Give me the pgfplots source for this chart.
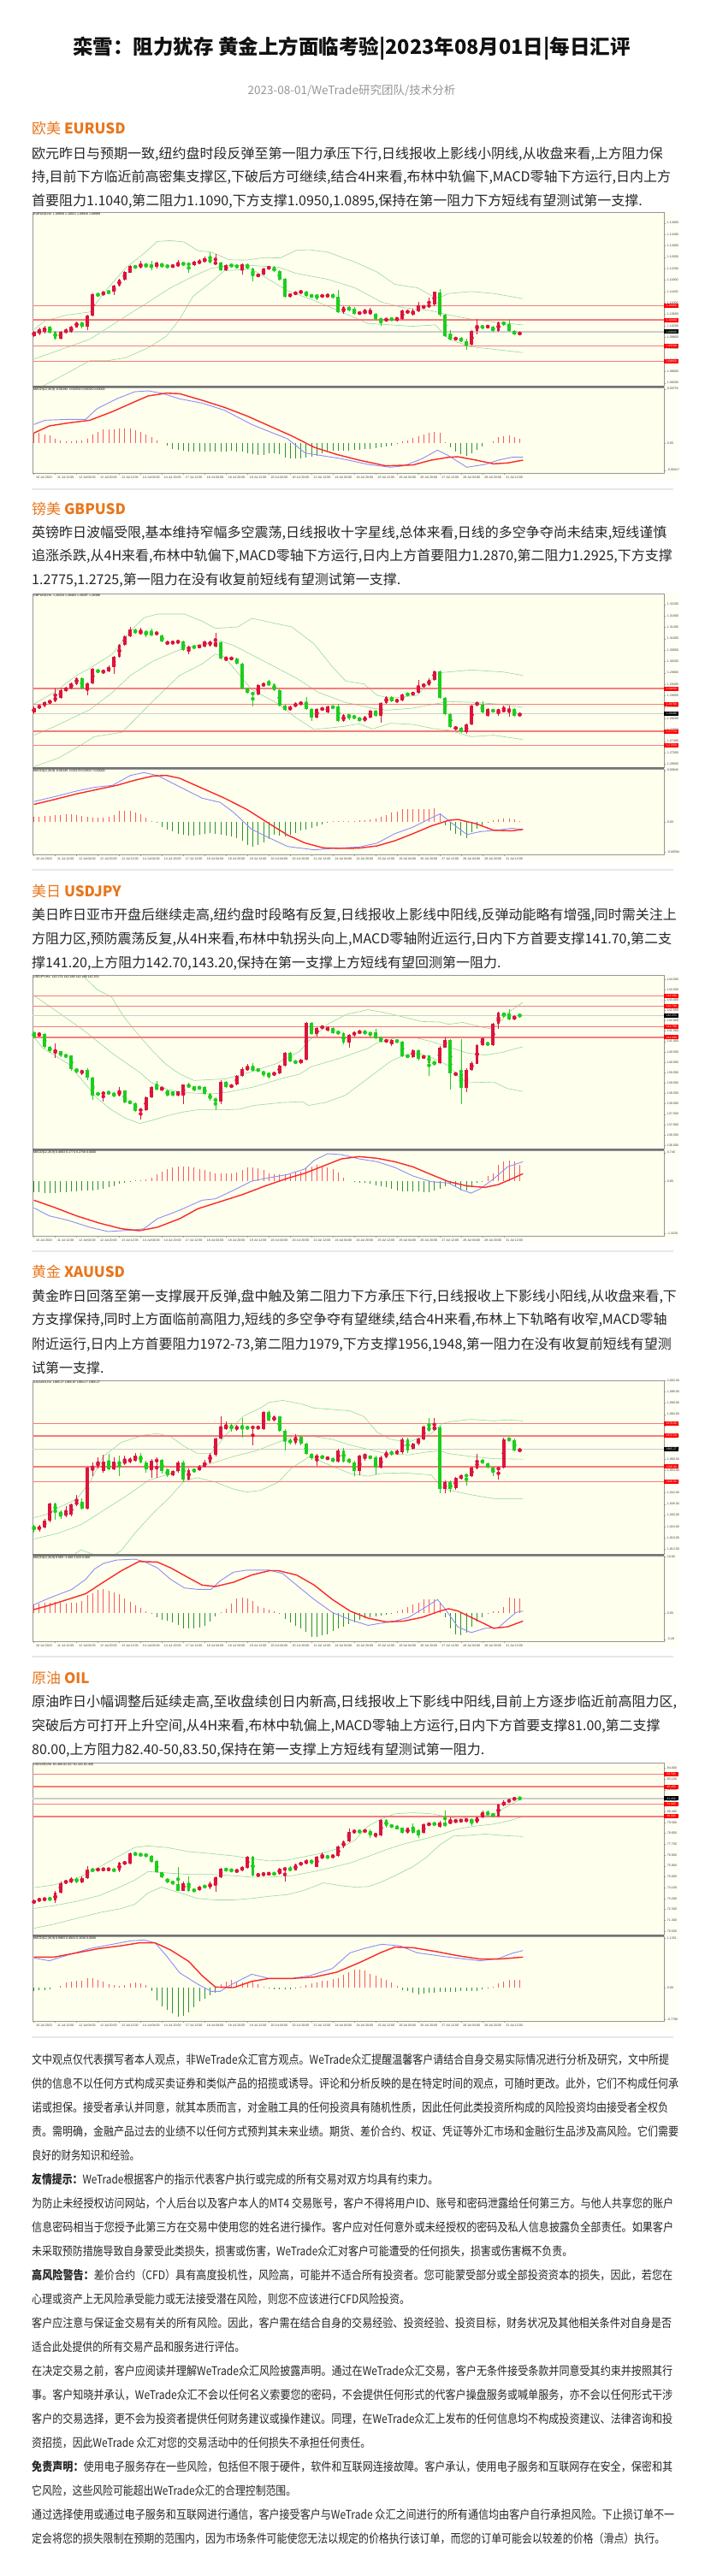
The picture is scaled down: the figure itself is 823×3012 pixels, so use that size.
\documentclass[border=0pt]{standalone}
\usepackage{fontspec}
\setmainfont{Noto Sans CJK SC}
\newfontfamily\discf{Noto Sans CJK SC}
\newfontfamily\lat{Liberation Sans}
\usepackage{graphicx}
\usepackage{pgfplots}
\pgfplotsset{compat=1.18}
\usepackage{pgfplotstable}
\XeTeXlinebreaklocale "zh"
\XeTeXlinebreakskip=0pt plus 3pt minus 1pt

\definecolor{plotbg}{RGB}{255,255,238}
\definecolor{stripbg}{RGB}{255,255,246}
\definecolor{bull}{RGB}{220,20,60}
\definecolor{bear}{RGB}{30,205,30}
\definecolor{bandc}{RGB}{150,215,160}
\definecolor{lvlc}{RGB}{245,125,125}
\definecolor{curc}{RGB}{205,205,205}
\definecolor{mblue}{RGB}{140,140,250}
\definecolor{mred}{RGB}{250,40,40}
\definecolor{hred}{RGB}{250,90,90}
\definecolor{hgreen}{RGB}{40,150,40}
\definecolor{framec}{RGB}{150,150,150}
\definecolor{headc}{RGB}{232,118,28}
\definecolor{txt}{RGB}{38,38,38}
\definecolor{subc}{RGB}{150,150,150}
\definecolor{sepc}{RGB}{232,232,232}

\newcommand\tinyf{\lat\fontsize{3.6}{4}\selectfont}
\newcommand\tagf{\lat\fontsize{3.3}{3.6}\selectfont}
\newcommand\parf{\fontsize{16}{18}\selectfont}
\newcommand\discfs{\discf\fontsize{14}{16}\selectfont}

\newcommand\pl[2]{\node[anchor=west,inner sep=0pt,text=txt,font=\parf] at (37pt,-#1pt) {\hbox to 748pt{#2}};}
\newcommand\pn[2]{\node[anchor=west,inner sep=0pt,text=txt,font=\parf] at (37pt,-#1pt) {#2};}
\newcommand\dl[3]{\node[anchor=west,inner sep=0pt,text=txt,font=\discfs] at (37pt,-#1pt) {\resizebox{#2pt}{\height}{#3}};}
\newcommand\head[3]{\node[anchor=west,inner sep=0pt,text=headc,font=\fontsize{17}{18}\selectfont] at (37pt,-#1pt) {#2 \textbf{#3}};}

\newcommand\candles[1]{%
\addplot[only marks, mark=none, bull, forget plot, restrict expr to domain={\thisrow{c}-\thisrow{o}}{-0.000001:100000}, error bars/.cd, y dir=both, y explicit, error mark=none, error bar style={line width=0.6pt, bull}] table[x=i, y expr=(\thisrow{h}+\thisrow{l})/2, y error expr=(\thisrow{h}-\thisrow{l})/2] {#1};
\addplot[only marks, mark=none, bear, forget plot, restrict expr to domain={\thisrow{o}-\thisrow{c}}{0.000001:100000}, error bars/.cd, y dir=both, y explicit, error mark=none, error bar style={line width=0.6pt, bear}] table[x=i, y expr=(\thisrow{h}+\thisrow{l})/2, y error expr=(\thisrow{h}-\thisrow{l})/2] {#1};
\addplot[only marks, mark=none, bull, forget plot, restrict expr to domain={\thisrow{c}-\thisrow{o}}{-0.000001:100000}, error bars/.cd, y dir=both, y explicit, error mark=none, error bar style={line width=3.8pt, bull}] table[x=i, y expr=(\thisrow{o}+\thisrow{c})/2, y error expr=abs(\thisrow{c}-\thisrow{o})/2] {#1};
\addplot[only marks, mark=none, bear, forget plot, restrict expr to domain={\thisrow{o}-\thisrow{c}}{0.000001:100000}, error bars/.cd, y dir=both, y explicit, error mark=none, error bar style={line width=3.8pt, bear}] table[x=i, y expr=(\thisrow{o}+\thisrow{c})/2, y error expr=abs(\thisrow{c}-\thisrow{o})/2] {#1};
}
\newcommand\hist[1]{%
\addplot[ycomb, hred, line width=0.8pt, forget plot, restrict y to domain=0.5:100000] table[x=i,y=m]{#1};
\addplot[ycomb, hgreen, line width=0.8pt, forget plot, restrict y to domain=-100000:-0.5] table[x=i,y=m]{#1};
}
\newcommand\lvl[1]{\addplot[lvlc, line width=1.5pt, forget plot] coordinates {(-1,#1) (119,#1)};}
\newcommand\curl[1]{\addplot[curc, line width=1.3pt, forget plot] coordinates {(-1,#1) (119,#1)};}
\newcommand\rtag[3]{\node[anchor=west, fill=#1, text=white, inner sep=0.4pt, font=\tagf, minimum height=5pt, minimum width=17pt] at (axis cs:118,#2) {#3};}

\pgfplotsset{
 cbase/.style={scale only axis, width=738pt, xmin=-0.26, xmax=118, anchor=north west,
   axis background/.style={fill=plotbg},
   axis line style={draw=framec, line width=0.8pt},
   clip mode=individual,
   tick align=outside, major tick length=1.6pt,
   tick style={draw=framec, line width=0.3pt},
   ytick pos=right,
   yticklabel style={font=\tinyf, text=black!75, xshift=-1.2pt},
   /pgf/number format/assume math mode=true,
   scaled y ticks=false},
 cmain/.style={cbase, height=203pt, xtick=\empty,
   yticklabel style={/pgf/number format/fixed, /pgf/number format/fixed zerofill, /pgf/number format/precision=#1}},
 cmacd/.style={cbase, height=100pt, xtick pos=bottom, xtick={0,4,...,88},
   xticklabels={10 Jul 2023,11 Jul 12:00,12 Jul 04:00,12 Jul 20:00,13 Jul 12:00,14 Jul 04:00,14 Jul 20:00,17 Jul 12:00,18 Jul 04:00,18 Jul 20:00,19 Jul 12:00,20 Jul 04:00,20 Jul 20:00,21 Jul 12:00,24 Jul 04:00,24 Jul 20:00,25 Jul 12:00,26 Jul 04:00,26 Jul 20:00,27 Jul 12:00,28 Jul 04:00,28 Jul 20:00,31 Jul 12:00},
   xticklabel style={font=\tinyf, text=black!75, anchor=north west, xshift=-1pt, yshift=0.8pt}},
}

% ---------------- EURUSD ----------------
\pgfplotstableread{
i o h l c
0 1.0985 1.1003 1.0981 1.0998
1 1.0993 1.1013 1.0988 1.1008
2 1.0998 1.1020 1.0993 1.1015
3 1.1017 1.1020 1.0994 1.0997
4 1.0999 1.1001 1.0973 1.0976
5 1.0976 1.1001 1.0973 1.0998
6 1.0996 1.1010 1.0993 1.1006
7 1.0998 1.1020 1.0995 1.1017
8 1.1015 1.1036 1.1013 1.1033
9 1.1033 1.1036 1.1012 1.1018
10 1.1018 1.1058 1.1005 1.1055
11 1.1055 1.1133 1.1052 1.1131
12 1.1131 1.1134 1.1122 1.1127
13 1.1128 1.1141 1.1125 1.1138
14 1.1141 1.1143 1.1130 1.1137
15 1.1140 1.1163 1.1128 1.1161
16 1.1160 1.1185 1.1158 1.1181
17 1.1181 1.1212 1.1178 1.1208
18 1.1206 1.1232 1.1204 1.1228
19 1.1228 1.1232 1.1220 1.1225
20 1.1223 1.1246 1.1220 1.1236
21 1.1235 1.1238 1.1222 1.1231
22 1.1233 1.1246 1.1214 1.1223
23 1.1225 1.1245 1.1220 1.1241
24 1.1238 1.1241 1.1222 1.1225
25 1.1231 1.1234 1.1222 1.1226
26 1.1227 1.1236 1.1222 1.1231
27 1.1228 1.1250 1.1225 1.1239
28 1.1239 1.1241 1.1232 1.1236
29 1.1238 1.1240 1.1205 1.1233
30 1.1233 1.1248 1.1230 1.1245
31 1.1238 1.1252 1.1235 1.1248
32 1.1243 1.1262 1.1240 1.1255
33 1.1255 1.1278 1.1238 1.1241
34 1.1238 1.1270 1.1235 1.1241
35 1.1241 1.1244 1.1212 1.1215
36 1.1215 1.1234 1.1212 1.1231
37 1.1233 1.1236 1.1226 1.1229
38 1.1233 1.1236 1.1220 1.1223
39 1.1221 1.1238 1.1200 1.1235
40 1.1235 1.1238 1.1218 1.1221
41 1.1221 1.1224 1.1175 1.1193
42 1.1193 1.1203 1.1190 1.1200
43 1.1198 1.1224 1.1195 1.1221
44 1.1221 1.1228 1.1218 1.1225
45 1.1225 1.1228 1.1207 1.1210
46 1.1210 1.1213 1.1178 1.1183
47 1.1185 1.1188 1.1120 1.1123
48 1.1123 1.1134 1.1120 1.1131
49 1.1131 1.1140 1.1128 1.1137
50 1.1137 1.1143 1.1133 1.1140
51 1.1140 1.1143 1.1122 1.1125
52 1.1127 1.1130 1.1118 1.1123
53 1.1127 1.1130 1.1110 1.1121
54 1.1121 1.1131 1.1118 1.1128
55 1.1121 1.1133 1.1118 1.1130
56 1.1130 1.1133 1.1115 1.1118
57 1.1121 1.1146 1.1065 1.1068
58 1.1068 1.1088 1.1063 1.1085
59 1.1085 1.1088 1.1072 1.1075
60 1.1081 1.1085 1.1058 1.1061
61 1.1061 1.1071 1.1058 1.1068
62 1.1065 1.1080 1.1062 1.1069
63 1.1063 1.1082 1.1060 1.1069
64 1.1063 1.1066 1.1042 1.1045
65 1.1045 1.1048 1.1020 1.1038
66 1.1038 1.1048 1.1035 1.1045
67 1.1045 1.1048 1.1038 1.1041
68 1.1041 1.1051 1.1035 1.1048
69 1.1045 1.1076 1.1042 1.1073
70 1.1065 1.1076 1.1062 1.1073
71 1.1058 1.1080 1.1055 1.1071
72 1.1070 1.1105 1.1068 1.1085
73 1.1083 1.1092 1.1080 1.1088
74 1.1085 1.1120 1.1083 1.1095
75 1.1095 1.1141 1.1090 1.1138
76 1.1138 1.1148 1.1053 1.1058
77 1.1058 1.1061 1.0980 1.0985
78 1.0985 1.1005 1.0970 1.0973
79 1.0973 1.0980 1.0970 1.0977
80 1.0977 1.0980 1.0962 1.0965
81 1.0965 1.0975 1.0935 1.0953
82 1.0953 1.1006 1.0950 1.1003
83 1.1003 1.1043 1.0990 1.1023
84 1.1021 1.1024 1.1008 1.1011
85 1.1015 1.1022 1.1012 1.1019
86 1.1017 1.1020 1.0998 1.1001
87 1.1001 1.1036 1.0998 1.1033
88 1.1033 1.1036 1.1020 1.1025
89 1.1025 1.1043 1.0998 1.1001
90 1.1001 1.1004 1.0988 1.0991
91 1.0991 1.0998 1.0988 1.0995
}\eurc
\pgfplotstableread[row sep=\\]{i m\\0 35\\1 35\\2 30\\3 27\\4 15\\5 9\\6 7\\7 7\\8 8\\9 9\\10 15\\11 30\\12 40\\13 47\\14 48\\15 49\\16 50\\17 51\\18 51\\19 45\\20 40\\21 30\\22 20\\23 10\\24 0\\25 -10\\26 -20\\27 -25\\28 -27\\29 -30\\30 -31\\31 -31\\32 -31\\33 -31\\34 -31\\35 -30\\36 -29\\37 -28\\38 -30\\39 -31\\40 -35\\41 -40\\42 -43\\43 -41\\44 -37\\45 -37\\46 -40\\47 -50\\48 -55\\49 -55\\50 -53\\51 -50\\52 -48\\53 -45\\54 -37\\55 -31\\56 -27\\57 -27\\58 -27\\59 -27\\60 -25\\61 -23\\62 -21\\63 -20\\64 -18\\65 -15\\66 -12\\67 -8\\68 -3\\69 5\\70 10\\71 17\\72 25\\73 30\\74 35\\75 40\\76 35\\77 2\\78 -15\\79 -30\\80 -40\\81 -45\\82 -35\\83 -25\\84 -13\\85 0\\86 7\\87 20\\88 25\\89 27\\90 20\\91 15\\}\eurh

% ---------------- GBPUSD ----------------
\pgfplotstableread{
i o h l c
0 1.2841 1.2861 1.2836 1.2856
1 1.2856 1.2869 1.2853 1.2866
2 1.2864 1.2880 1.2860 1.2876
3 1.2873 1.2887 1.2870 1.2883
4 1.2881 1.2925 1.2878 1.2896
5 1.2891 1.2925 1.2888 1.2919
6 1.2916 1.2932 1.2913 1.2929
7 1.2926 1.2946 1.2923 1.2943
8 1.2941 1.2965 1.2938 1.2961
9 1.2961 1.2964 1.2923 1.2926
10 1.2926 1.2946 1.2900 1.2943
11 1.2943 1.2996 1.2940 1.2993
12 1.2991 1.2994 1.2978 1.2981
13 1.2981 1.2992 1.2975 1.2989
14 1.2986 1.3005 1.2983 1.3001
15 1.3001 1.3040 1.2975 1.3036
16 1.3036 1.3082 1.3033 1.3079
17 1.3079 1.3112 1.3076 1.3109
18 1.3109 1.3140 1.3106 1.3131
19 1.3131 1.3134 1.3116 1.3119
20 1.3116 1.3139 1.3113 1.3126
21 1.3126 1.3129 1.3105 1.3116
22 1.3119 1.3135 1.3110 1.3113
23 1.3116 1.3124 1.3113 1.3121
24 1.3111 1.3114 1.3086 1.3089
25 1.3081 1.3092 1.3078 1.3089
26 1.3083 1.3092 1.3080 1.3089
27 1.3086 1.3095 1.3083 1.3091
28 1.3089 1.3092 1.3058 1.3061
29 1.3063 1.3074 1.3045 1.3071
30 1.3073 1.3076 1.3065 1.3068
31 1.3069 1.3079 1.3066 1.3076
32 1.3073 1.3094 1.3070 1.3091
33 1.3076 1.3094 1.3073 1.3091
34 1.3073 1.3120 1.3070 1.3086
35 1.3086 1.3089 1.3026 1.3029
36 1.3029 1.3036 1.3020 1.3033
37 1.3029 1.3035 1.3025 1.3032
38 1.3031 1.3034 1.3008 1.3011
39 1.3013 1.3016 1.2923 1.2926
40 1.2926 1.2929 1.2908 1.2911
41 1.2911 1.2914 1.2863 1.2903
42 1.2903 1.2939 1.2900 1.2936
43 1.2933 1.2946 1.2930 1.2943
44 1.2943 1.2956 1.2936 1.2939
45 1.2939 1.2942 1.2916 1.2919
46 1.2919 1.2922 1.2863 1.2866
47 1.2866 1.2869 1.2846 1.2849
48 1.2849 1.2864 1.2846 1.2861
49 1.2861 1.2876 1.2858 1.2873
50 1.2871 1.2878 1.2868 1.2875
51 1.2875 1.2896 1.2850 1.2853
52 1.2853 1.2856 1.2810 1.2823
53 1.2823 1.2856 1.2820 1.2853
54 1.2851 1.2859 1.2848 1.2856
55 1.2841 1.2864 1.2838 1.2861
56 1.2861 1.2864 1.2855 1.2858
57 1.2861 1.2870 1.2808 1.2811
58 1.2811 1.2834 1.2808 1.2831
59 1.2833 1.2836 1.2815 1.2826
60 1.2829 1.2832 1.2818 1.2821
61 1.2823 1.2826 1.2808 1.2811
62 1.2811 1.2828 1.2808 1.2825
63 1.2823 1.2849 1.2820 1.2846
64 1.2846 1.2849 1.2826 1.2829
65 1.2829 1.2876 1.2806 1.2873
66 1.2873 1.2899 1.2870 1.2896
67 1.2896 1.2899 1.2876 1.2879
68 1.2879 1.2889 1.2875 1.2886
69 1.2883 1.2906 1.2880 1.2903
70 1.2906 1.2909 1.2900 1.2903
71 1.2903 1.2914 1.2900 1.2911
72 1.2909 1.2955 1.2906 1.2933
73 1.2933 1.2942 1.2930 1.2939
74 1.2936 1.2960 1.2933 1.2956
75 1.2956 1.2989 1.2953 1.2986
76 1.2986 1.2989 1.2888 1.2891
77 1.2891 1.2894 1.2833 1.2836
78 1.2836 1.2839 1.2788 1.2791
79 1.2783 1.2792 1.2780 1.2789
80 1.2786 1.2789 1.2770 1.2773
81 1.2773 1.2802 1.2765 1.2799
82 1.2799 1.2869 1.2796 1.2866
83 1.2866 1.2879 1.2863 1.2876
84 1.2869 1.2879 1.2838 1.2841
85 1.2829 1.2856 1.2826 1.2853
86 1.2851 1.2854 1.2840 1.2843
87 1.2846 1.2852 1.2830 1.2849
88 1.2846 1.2866 1.2843 1.2849
89 1.2846 1.2866 1.2825 1.2853
90 1.2853 1.2856 1.2826 1.2829
91 1.2831 1.2839 1.2828 1.2836
}\gbpc
\pgfplotstableread[row sep=\\]{i m\\0 18\\1 18\\2 20\\3 22\\4 23\\5 25\\6 27\\7 27\\8 25\\9 20\\10 17\\11 15\\12 13\\13 14\\14 16\\15 25\\16 38\\17 40\\18 38\\19 33\\20 28\\21 15\\22 3\\23 -2\\24 -19\\25 -27\\26 -35\\27 -42\\28 -47\\29 -50\\30 -50\\31 -47\\32 -42\\33 -39\\34 -42\\35 -47\\36 -49\\37 -52\\38 -57\\39 -67\\40 -82\\41 -87\\42 -82\\43 -72\\44 -62\\45 -47\\46 -50\\47 -52\\48 -47\\49 -39\\50 -32\\51 -27\\52 -23\\53 -17\\54 -9\\55 -2\\56 1\\57 1\\58 1\\59 3\\60 3\\61 5\\62 5\\63 7\\64 11\\65 18\\66 25\\67 33\\68 35\\69 45\\70 45\\71 45\\72 45\\73 45\\74 46\\75 48\\76 28\\77 -12\\78 -32\\79 -42\\80 -50\\81 -57\\82 -37\\83 -25\\84 -15\\85 -5\\86 5\\87 8\\88 10\\89 10\\90 7\\91 3\\}\gbph

% ---------------- USDJPY ----------------
\pgfplotstableread{
i o h l c
0 141.44 141.50 141.15 141.21
1 141.30 141.45 141.25 141.34
2 141.34 141.40 140.65 140.73
3 140.75 140.80 140.45 140.52
4 140.45 140.90 140.20 140.52
5 140.52 140.55 140.25 140.35
6 140.34 140.40 140.20 140.28
7 140.31 140.35 139.60 139.69
8 139.69 139.72 139.45 139.56
9 139.49 139.64 139.40 139.60
10 139.62 139.70 139.15 139.28
11 139.28 139.32 138.20 138.39
12 138.50 138.55 138.40 138.44
13 138.46 138.60 138.10 138.55
14 138.55 138.60 138.45 138.52
15 138.52 138.55 138.30 138.39
16 138.39 138.80 138.35 138.63
17 138.63 138.66 138.02 138.08
18 138.11 138.15 137.98 138.04
19 138.04 138.07 137.60 137.67
20 137.67 137.78 137.25 137.73
21 137.70 138.36 137.66 138.32
22 138.32 138.85 138.28 138.80
23 138.83 139.10 138.65 138.69
24 138.66 138.85 138.60 138.80
25 138.66 138.70 138.35 138.39
26 138.59 138.62 138.35 138.39
27 138.39 138.62 138.35 138.59
28 138.39 138.95 138.00 138.91
29 138.91 139.00 138.75 138.80
30 138.83 138.86 138.60 138.66
31 138.80 138.85 138.70 138.73
32 138.80 138.83 138.42 138.46
33 138.46 138.50 138.15 138.25
34 138.25 138.30 137.70 138.11
35 138.11 139.12 138.00 139.07
36 139.07 139.10 138.75 138.80
37 138.80 138.95 138.75 138.91
38 138.91 139.40 138.88 139.35
39 139.35 139.75 139.30 139.69
40 139.65 139.90 139.60 139.73
41 139.69 139.95 139.55 139.63
42 139.65 139.70 139.55 139.60
43 139.56 139.60 139.30 139.42
44 139.46 139.50 139.20 139.38
45 139.38 139.55 139.35 139.49
46 139.46 139.88 139.42 139.83
47 139.83 140.50 139.80 140.45
48 140.45 140.50 140.00 140.04
49 140.06 140.10 139.90 139.97
50 139.97 140.15 139.92 140.11
51 140.11 141.95 140.07 141.89
52 141.89 141.92 141.30 141.34
53 141.34 141.70 141.25 141.66
54 141.66 141.76 141.60 141.72
55 141.52 141.73 141.48 141.69
56 141.66 141.70 141.38 141.41
57 141.44 141.50 141.35 141.41
58 141.41 141.45 140.85 140.93
59 140.93 141.35 140.70 141.30
60 141.30 141.50 141.25 141.44
61 141.41 141.55 141.35 141.50
62 141.48 141.55 141.30 141.41
63 141.44 141.50 141.20 141.30
64 141.44 141.60 141.12 141.17
65 141.21 141.25 140.95 141.00
66 141.00 141.10 140.95 141.07
67 140.86 141.10 140.80 141.07
68 141.07 141.10 140.93 140.97
69 141.00 141.05 140.25 140.31
70 140.34 140.38 140.20 140.24
71 140.24 140.63 140.20 140.59
72 140.56 140.60 140.10 140.17
73 140.20 140.35 140.15 140.31
74 140.31 140.35 139.35 139.97
75 140.01 140.05 139.85 139.94
76 139.94 140.77 139.90 140.72
77 140.72 141.20 140.68 141.07
78 141.07 141.10 138.70 139.46
79 139.42 139.50 139.35 139.46
80 139.46 141.10 138.00 138.77
81 138.77 139.70 138.55 139.65
82 139.65 140.05 139.60 139.97
83 139.93 140.88 139.90 140.83
84 140.83 141.20 140.78 141.14
85 140.93 141.00 140.78 140.83
86 140.83 141.90 140.78 141.85
87 141.85 142.45 141.60 142.40
88 142.37 142.40 142.15 142.21
89 142.24 142.55 142.00 142.07
90 142.07 142.28 142.00 142.24
91 142.26 142.30 142.20 142.24
}\jpyc
\pgfplotstableread[row sep=\\]{i m\\0 -40\\1 -40\\2 -42\\3 -42\\4 -42\\5 -40\\6 -38\\7 -37\\8 -35\\9 -32\\10 -32\\11 -32\\12 -30\\13 -27\\14 -22\\15 -17\\16 -8\\17 -5\\18 -2\\19 2\\20 3\\21 6\\22 13\\23 23\\24 33\\25 43\\26 48\\27 50\\28 50\\29 50\\30 48\\31 43\\32 38\\33 33\\34 26\\35 26\\36 28\\37 28\\38 30\\39 38\\40 48\\41 48\\42 46\\43 38\\44 28\\45 23\\46 23\\47 23\\48 28\\49 33\\50 33\\51 48\\52 50\\53 56\\54 50\\55 48\\56 43\\57 30\\58 13\\59 0\\60 -4\\61 -7\\62 -7\\63 -10\\64 -14\\65 -17\\66 -22\\67 -27\\68 -32\\69 -37\\70 -37\\71 -37\\72 -37\\73 -40\\74 -40\\75 -32\\76 -27\\77 -17\\78 -12\\79 -22\\80 -32\\81 -34\\82 -22\\83 -7\\84 -2\\85 18\\86 28\\87 58\\88 68\\89 73\\90 68\\91 56\\}\jpyh

% ---------------- XAUUSD ----------------
\pgfplotstableread{
i o h l c
0 1924.2 1925.0 1921.0 1922.7
1 1922.7 1925.0 1921.5 1923.8
2 1923.5 1928.0 1923.0 1927.3
3 1927.3 1937.0 1926.5 1936.4
4 1936.4 1937.0 1927.5 1931.9
5 1931.9 1932.5 1928.0 1930.3
6 1930.3 1935.0 1929.0 1931.1
7 1930.3 1936.5 1929.5 1935.9
8 1935.9 1941.0 1935.0 1937.2
9 1937.2 1939.0 1933.0 1933.8
10 1933.8 1956.0 1933.0 1955.4
11 1955.2 1958.5 1951.0 1956.2
12 1956.5 1961.0 1955.0 1957.7
13 1953.6 1962.5 1953.0 1958.8
14 1958.8 1963.0 1954.0 1954.7
15 1954.7 1961.0 1954.0 1958.8
16 1958.8 1962.0 1951.0 1957.2
17 1957.7 1962.0 1957.0 1959.2
18 1959.0 1961.0 1958.0 1959.6
19 1959.2 1963.5 1958.5 1961.8
20 1961.8 1963.5 1958.0 1958.5
21 1958.5 1959.0 1953.0 1954.7
22 1954.7 1960.0 1950.0 1959.2
23 1959.0 1961.0 1950.0 1959.6
24 1959.6 1960.0 1952.5 1953.6
25 1954.7 1955.0 1950.5 1951.6
26 1951.2 1954.0 1950.8 1953.6
27 1953.6 1959.0 1953.0 1958.2
28 1958.2 1959.0 1948.0 1949.3
29 1949.3 1955.0 1948.8 1954.2
30 1954.2 1955.0 1953.0 1953.9
31 1954.2 1957.0 1953.5 1956.2
32 1956.2 1959.5 1955.5 1958.5
33 1958.5 1963.5 1958.0 1962.3
34 1962.3 1971.5 1961.5 1970.9
35 1970.9 1983.0 1970.5 1975.9
36 1975.9 1980.0 1975.5 1978.2
37 1978.2 1979.5 1974.5 1975.9
38 1975.9 1978.5 1975.0 1977.5
39 1977.9 1982.0 1971.5 1976.7
40 1977.0 1977.5 1976.0 1976.7
41 1976.7 1978.0 1967.5 1977.3
42 1976.8 1977.7 1976.0 1977.1
43 1975.9 1985.5 1975.5 1985.1
44 1985.1 1986.0 1980.0 1980.5
45 1980.5 1983.5 1980.0 1982.8
46 1982.8 1983.0 1974.5 1975.2
47 1975.2 1976.0 1964.5 1969.9
48 1970.3 1971.0 1968.0 1968.8
49 1968.8 1973.5 1968.0 1972.1
50 1972.1 1973.0 1967.5 1968.3
51 1968.3 1969.0 1962.5 1963.0
52 1963.0 1963.5 1959.5 1960.7
53 1960.7 1963.0 1956.5 1961.8
54 1961.8 1962.0 1960.0 1960.7
55 1960.4 1961.0 1960.0 1960.7
56 1960.7 1961.0 1958.3 1958.8
57 1958.8 1965.5 1958.3 1964.8
58 1964.8 1966.0 1958.3 1958.8
59 1960.0 1960.5 1958.0 1958.5
60 1958.5 1959.0 1951.0 1953.6
61 1953.6 1962.5 1951.5 1961.8
62 1961.8 1963.0 1959.0 1962.3
63 1961.5 1962.0 1960.0 1960.7
64 1961.2 1962.0 1952.0 1955.4
65 1955.4 1962.0 1955.0 1961.2
66 1961.2 1964.5 1960.5 1963.8
67 1963.8 1964.5 1962.0 1963.0
68 1963.0 1965.0 1962.5 1964.2
69 1963.8 1971.5 1963.0 1970.6
70 1970.6 1971.5 1963.5 1964.8
71 1965.7 1969.0 1965.0 1968.3
72 1968.3 1971.5 1967.5 1970.9
73 1970.6 1978.0 1970.0 1977.3
74 1977.3 1982.0 1974.5 1975.2
75 1975.5 1982.0 1975.0 1977.5
76 1977.0 1978.0 1942.0 1944.0
77 1944.0 1948.5 1942.0 1947.8
78 1947.8 1948.5 1942.5 1944.0
79 1944.5 1950.5 1943.5 1950.1
80 1949.6 1952.0 1949.0 1951.6
81 1951.6 1952.5 1946.0 1950.9
82 1950.9 1956.0 1950.5 1955.4
83 1955.1 1963.0 1954.5 1959.2
84 1959.2 1960.0 1957.5 1958.5
85 1957.7 1958.5 1955.0 1955.7
86 1955.7 1956.2 1951.0 1953.9
87 1954.2 1956.0 1949.0 1955.7
88 1955.7 1971.5 1955.0 1970.6
89 1970.6 1971.5 1970.0 1970.3
90 1970.3 1971.0 1964.2 1964.8
91 1964.5 1965.7 1964.0 1965.2
}\xauc
\pgfplotstableread[row sep=\\]{i m\\0 29\\1 32\\2 35\\3 37\\4 39\\5 35\\6 32\\7 35\\8 37\\9 42\\10 62\\11 69\\12 79\\13 82\\14 77\\15 72\\16 65\\17 52\\18 39\\19 27\\20 19\\21 7\\22 -1\\23 -15\\24 -23\\25 -28\\26 -33\\27 -41\\28 -53\\29 -53\\30 -53\\31 -51\\32 -43\\33 -31\\34 -13\\35 2\\36 15\\37 32\\38 52\\39 55\\40 52\\41 42\\42 25\\43 19\\44 12\\45 7\\46 -1\\47 -21\\48 -33\\49 -43\\50 -53\\51 -65\\52 -83\\53 -83\\54 -78\\55 -73\\56 -63\\57 -53\\58 -48\\59 -38\\60 -33\\61 -25\\62 -18\\63 -15\\64 -11\\65 -8\\66 -5\\67 -1\\68 5\\69 12\\70 22\\71 29\\72 35\\73 47\\74 49\\75 47\\76 35\\77 -15\\78 -53\\79 -73\\80 -78\\81 -68\\82 -48\\83 -31\\84 -15\\85 -3\\86 5\\87 7\\88 22\\89 55\\90 52\\91 52\\}\xauh

% ---------------- OIL ----------------
\pgfplotstableread{
i o h l c
0 72.85 73.10 72.75 73.02
1 73.02 73.25 72.95 73.16
2 73.09 73.30 73.00 73.20
3 73.25 73.35 73.00 73.09
4 73.02 73.80 72.85 73.72
5 73.72 74.60 73.65 74.50
6 74.50 74.75 74.40 74.66
7 74.57 74.95 74.50 74.85
8 74.85 74.95 74.50 74.57
9 74.57 75.00 74.50 74.90
10 74.90 75.90 74.85 75.60
11 75.60 75.70 75.40 75.51
12 75.51 75.75 75.45 75.67
13 75.55 75.75 75.50 75.67
14 75.60 75.70 75.55 75.62
15 75.60 75.65 75.45 75.51
16 75.51 76.25 75.40 76.14
17 76.07 76.30 76.00 76.21
18 76.07 77.05 76.00 76.96
19 76.92 77.00 76.80 76.85
20 76.87 76.95 76.70 76.78
21 76.85 76.90 76.65 76.73
22 76.73 76.80 76.20 76.26
23 76.31 76.35 75.30 75.37
24 75.37 75.40 74.90 74.97
25 74.85 74.90 74.50 74.57
26 74.62 74.70 74.35 74.43
27 74.43 75.80 73.80 73.86
28 73.86 74.60 73.80 74.50
29 74.50 75.00 73.75 73.86
30 73.91 73.95 73.80 73.86
31 73.91 74.25 73.85 74.19
32 74.24 74.30 74.10 74.15
33 74.10 74.60 73.95 74.50
34 74.50 75.05 73.75 74.97
35 74.97 75.75 74.90 75.67
36 75.67 75.75 75.45 75.51
37 75.60 75.70 75.40 75.44
38 75.44 75.60 75.40 75.51
39 75.51 75.90 75.45 75.79
40 75.74 76.75 75.70 76.68
41 76.68 76.75 75.00 75.09
42 75.09 75.30 75.00 75.20
43 75.13 75.40 75.05 75.32
44 75.20 75.40 75.10 75.32
45 75.32 75.40 75.10 75.20
46 75.27 75.75 75.20 75.67
47 75.55 75.80 74.60 75.74
48 75.74 75.85 75.45 75.51
49 75.55 76.10 75.50 76.02
50 76.02 76.20 75.95 76.14
51 76.07 76.45 76.00 76.38
52 76.38 76.45 76.05 76.14
53 75.84 76.75 75.80 76.68
54 76.59 77.00 76.50 76.68
55 76.73 76.80 76.50 76.54
56 76.61 76.85 76.55 76.78
57 76.73 77.55 76.65 77.48
58 77.48 78.00 77.40 77.90
59 77.90 79.00 77.85 78.73
60 78.70 78.90 78.60 78.80
61 78.80 78.90 78.60 78.70
62 78.73 78.95 78.65 78.85
63 78.80 78.90 78.20 78.49
64 78.42 78.65 78.25 78.56
65 78.42 79.75 78.35 79.67
66 79.67 79.75 79.10 79.20
67 79.27 79.35 79.05 79.13
68 79.20 79.25 78.90 78.96
69 79.03 79.10 78.55 78.61
70 78.61 79.10 78.55 79.03
71 79.03 79.45 78.60 78.66
72 78.85 78.90 78.20 78.61
73 78.61 79.40 78.55 79.32
74 79.27 79.50 79.20 79.43
75 79.43 79.50 79.25 79.32
76 79.13 79.60 79.05 79.50
77 79.50 80.50 79.15 79.20
78 79.43 79.90 79.35 79.60
79 79.55 79.75 79.50 79.65
80 79.60 79.75 79.55 79.67
81 79.60 79.85 79.55 79.74
82 79.74 79.85 79.20 79.55
83 79.50 79.95 79.45 79.90
84 79.90 80.45 79.85 80.37
85 80.37 80.45 80.05 80.14
86 80.21 80.30 79.95 80.02
87 80.02 81.05 79.95 80.96
88 80.91 81.30 80.85 81.19
89 81.19 81.45 81.10 81.38
90 81.38 81.60 81.30 81.52
91 81.52 81.53 81.43 81.48
}\oilc
\pgfplotstableread[row sep=\\]{i m\\0 -10\\1 -8\\2 -8\\3 -6\\4 0\\5 8\\6 18\\7 23\\8 25\\9 26\\10 33\\11 33\\12 28\\13 23\\14 13\\15 10\\16 8\\17 10\\18 15\\19 18\\20 15\\21 10\\22 -10\\23 -45\\24 -65\\25 -77\\26 -90\\27 -100\\28 -97\\29 -87\\30 -67\\31 -47\\32 -37\\33 -27\\34 -17\\35 13\\36 23\\37 28\\38 23\\39 18\\40 18\\41 23\\42 13\\43 3\\44 -3\\45 -5\\46 -5\\47 -5\\48 -4\\49 -3\\50 5\\51 10\\52 15\\53 20\\54 25\\55 25\\56 30\\57 35\\58 45\\59 55\\60 63\\61 65\\62 62\\63 50\\64 42\\65 35\\66 28\\67 18\\68 8\\69 -8\\70 -12\\71 -18\\72 -22\\73 -20\\74 -18\\75 -16\\76 -15\\77 -15\\78 -14\\79 -13\\80 -12\\81 -12\\82 -12\\83 -10\\84 -6\\85 -3\\86 5\\87 15\\88 22\\89 28\\90 28\\91 28\\}\oilh

\begin{document}
\begin{tikzpicture}[x=1pt,y=1pt]
\path[use as bounding box] (0,0) rectangle (823pt,-3012pt);
\fill[white] (0,0) rectangle (823pt,-3012pt);

% title
\node[inner sep=0pt, text={rgb,255:red,17;green,17;blue,17}, font=\bfseries\fontsize{23.5}{25}\selectfont] at (411pt,-57pt) {栾雪：阻力犹存 黄金上方面临考验|2023年08月01日|每日汇评};
\node[inner sep=0pt, text=subc, font=\fontsize{13.5}{15}\selectfont] at (411pt,-106pt) {2023-08-01/WeTrade研究团队/技术分析};

% ===== EURUSD =====
\head{150}{欧美}{EURUSD}
\pl{180}{欧元昨日与预期一致,纽约盘时段反弹至第一阻力承压下行,日线报收上影线小阴线,从收盘来看,上方阻力保}
\pl{207}{持,目前下方临近前高密集支撑区,下破后方可继续,结合4H来看,布林中轨偏下,MACD零轴下方运行,日内上方}
\pn{235}{首要阻力1.1040,第二阻力1.1090,下方支撑1.0950,1.0895,保持在第一阻力下方短线有望测试第一支撑.}
\fill[stripbg] (38pt,-247pt) rectangle (793pt,-561pt);
\begin{axis}[cmain=5, at={(38pt,-248pt)}, ymin=1.0810, ymax=1.1418, ytick={1.082,1.086,...,1.1405}]
\addplot[bandc, line width=0.6pt] coordinates {(0,1.1006) (2.1,1.1038) (6.3,1.1058) (10.5,1.1068) (13,1.1133) (17.2,1.1223) (20.6,1.1273) (23.1,1.1315) (25.6,1.1318) (28.2,1.1313) (30.7,1.1283) (33.2,1.1278) (36.6,1.1251) (39.9,1.1250) (42.4,1.1257) (46.2,1.1258) (49.2,1.1285) (51.7,1.1286) (55,1.1278) (60.1,1.1243) (64.3,1.1208) (67.6,1.1165) (71.8,1.1153) (75.2,1.1118) (76.5,1.1123) (77.7,1.1133) (81.9,1.1140) (86.1,1.1133) (91.6,1.1115)};
\addplot[bandc, line width=0.6pt] coordinates {(0,1.0903) (10.5,1.0973) (15.5,1.1033) (20.6,1.1093) (25.6,1.1153) (29.8,1.1193) (33.2,1.1221) (36.6,1.1231) (40.8,1.1231) (45.8,1.1225) (49.2,1.1203) (55,1.1183) (60.1,1.1153) (65.1,1.1103) (69.3,1.1083) (74.4,1.1073) (77.7,1.1058) (81.9,1.1043) (86.1,1.1033) (91.6,1.1023)};
\addplot[bandc, line width=0.6pt] coordinates {(0,1.0793) (2.1,1.0813) (7.1,1.0863) (10.5,1.0898) (13.9,1.0898) (17.2,1.0908) (21.4,1.0943) (24.8,1.0983) (27.3,1.1043) (29.8,1.1123) (33.2,1.1173) (35.7,1.1213) (40.8,1.1218) (47.5,1.1143) (52.5,1.1108) (57.6,1.1068) (62.6,1.1028) (66.8,1.1023) (71,1.1018) (75.2,1.1023) (77.7,1.0973) (81.9,1.0946) (86.1,1.0938) (91.6,1.0926)};
\lvl{1.1090}\lvl{1.1040}\lvl{1.0950}\lvl{1.0895}\curl{1.0999}
\candles{\eurc}
\rtag{red}{1.1090}{1.10900}\rtag{red}{1.1040}{1.10400}\rtag{red}{1.0950}{1.09500}\rtag{red}{1.0895}{1.08950}\rtag{black}{1.0999}{1.09999}
\node[anchor=north west, font=\tinyf, inner sep=1pt] at (rel axis cs:0,1) {EURUSD,H4 \ 1.09958 1.10021 1.09916 1.09999};
\end{axis}
\begin{axis}[cmacd, at={(38pt,-453pt)}, ymin=-105, ymax=195, ytick={-95,0,190}, yticklabels={-0.00417,0.00,0.00753}]
\hist{\eurh}
\addplot[mblue, line width=0.9pt] coordinates {(0,65) (2.1,80) (6.3,83) (9.7,83) (11.8,120) (15.5,155) (18.9,180) (21.4,183) (23.9,175) (27.3,155) (31.5,140) (35.7,115) (40.8,65) (44.1,40) (47.5,15) (50.8,-35) (54.2,-45) (57.6,-55) (62.6,-75) (66.8,-85) (69.3,-80) (72.7,-55) (75.6,-25) (77.7,-45) (81.1,-85) (84.5,-75) (87,-60) (89.5,-50) (91.6,-50)};
\addplot[mred, line width=1.4pt] coordinates {(0,35) (2.9,60) (6.3,70) (10.5,80) (14.7,110) (18.9,145) (21.4,165) (24.8,175) (27.3,173) (31.5,150) (35.7,125) (39.9,95) (44.1,60) (48.3,25) (52.5,-15) (56.7,-40) (60.9,-60) (65.9,-80) (71,-77) (74.4,-60) (77.7,-50) (79.4,-48) (82.8,-60) (86.1,-73) (88.7,-70) (91.6,-60)};
\node[anchor=north west, font=\tinyf, inner sep=1pt] at (rel axis cs:0,1) {MACD(12,26,9) -0.00192 -0.00254 0.00026 0.00000};
\end{axis}
\draw[black!55, line width=1.2pt] (38pt,-452pt) -- (776pt,-452pt);
\draw[sepc, line width=1.2pt] (37pt,-572pt) -- (787pt,-572pt);

% ===== GBPUSD =====
\head{595}{镑美}{GBPUSD}
\pl{623}{英镑昨日波幅受限,基本维持窄幅多空震荡,日线报收十字星线,总体来看,日线的多空争夺尚未结束,短线谨慎}
\pl{650}{追涨杀跌,从4H来看,布林中轨偏下,MACD零轴下方运行,日内上方首要阻力1.2870,第二阻力1.2925,下方支撑}
\pn{678}{1.2775,1.2725,第一阻力在没有收复前短线有望测试第一支撑.}
\fill[stripbg] (38pt,-693pt) rectangle (793pt,-1007pt);
\begin{axis}[cmain=5, at={(38pt,-694pt)}, ymin=1.2649, ymax=1.3258, ytick={1.2660,1.2700,...,1.3245}]
\addplot[bandc, line width=0.6pt] coordinates {(0,1.2871) (3.8,1.2911) (8,1.2971) (10.5,1.2996) (14.7,1.3046) (18.1,1.3126) (20.6,1.3173) (23.1,1.3186) (28.2,1.3186) (31.5,1.3161) (34,1.3136) (38.2,1.3141) (40.8,1.3171) (45.8,1.3151) (48.3,1.3141) (52.5,1.3081) (55.9,1.3001) (58.4,1.2951) (61.8,1.2941) (64.3,1.2901) (66.8,1.2891) (71.8,1.2901) (75.2,1.2971) (76.5,1.2981) (77.7,1.2983) (81.9,1.2990) (87.8,1.2983) (91.6,1.2971)};
\addplot[bandc, line width=0.6pt] coordinates {(0,1.2761) (3.8,1.2791) (10.5,1.2851) (14.7,1.2911) (18.1,1.2971) (22.3,1.3021) (27.3,1.3061) (31.5,1.3081) (34.9,1.3091) (37.4,1.3076) (44.1,1.3011) (49.2,1.2961) (53.3,1.2911) (58.4,1.2876) (63.4,1.2856) (66,1.2849) (71,1.2856) (75.2,1.2871) (77.7,1.2879) (82.8,1.2876) (87.8,1.2869) (91.6,1.2859)};
\addplot[bandc, line width=0.6pt] coordinates {(0,1.2651) (4.6,1.2681) (8.8,1.2726) (11.3,1.2756) (16.4,1.2771) (18.1,1.2801) (22.3,1.2881) (27.3,1.2971) (31.5,1.3011) (34,1.3046) (35.7,1.3036) (40.8,1.2921) (45.8,1.2871) (49.2,1.2821) (52.5,1.2781) (57.6,1.2791) (60.9,1.2801) (63.4,1.2783) (66.8,1.2803) (71,1.2799) (75.2,1.2783) (77.7,1.2779) (81.9,1.2756) (86.1,1.2761) (91.6,1.2746)};
\lvl{1.2925}\lvl{1.2870}\lvl{1.2775}\lvl{1.2725}\curl{1.2836}
\candles{\gbpc}
\rtag{red}{1.2925}{1.29250}\rtag{red}{1.2870}{1.28700}\rtag{red}{1.2775}{1.27750}\rtag{red}{1.2725}{1.27250}\rtag{black}{1.2836}{1.28386}
\node[anchor=north west, font=\tinyf, inner sep=1pt] at (rel axis cs:0,1) {GBPUSD,H4 \ 1.28334 1.28483 1.28297 1.28386};
\end{axis}
\begin{axis}[cmacd, at={(38pt,-899pt)}, ymin=-115, ymax=186, ytick={-107,0,181}, yticklabels={-0.00594,0.00,0.00845}]
\hist{\gbph}
\addplot[mblue, line width=0.9pt] coordinates {(0,71) (3.8,88) (8,108) (11.3,121) (14.7,128) (18.1,163) (20.6,173) (23.1,163) (27.3,123) (31.5,83) (34.9,68) (37.4,33) (40.8,-27) (44.1,-57) (47.5,-87) (52.5,-99) (55.9,-94) (60.9,-89) (64.3,-75) (67.6,-42) (71,-19) (74.4,13) (76.1,28) (77.7,3) (81.1,-45) (83.6,-35) (87,-29) (89.5,-23) (91.6,-27)};
\addplot[mred, line width=1.4pt] coordinates {(0,61) (3.8,78) (8,98) (12.2,115) (15.5,128) (18.9,146) (22.3,161) (24.8,163) (27.3,153) (31.5,118) (35.7,83) (39.9,43) (44.1,-7) (47.5,-47) (50.8,-75) (54.2,-92) (57.6,-94) (60.9,-93) (64.3,-85) (67.6,-67) (71,-42) (74.4,-15) (77.7,5) (79.4,8) (82.8,-7) (86.1,-30) (89.5,-32) (91.6,-27)};
\node[anchor=north west, font=\tinyf, inner sep=1pt] at (rel axis cs:0,1) {MACD(12,26,9) -0.00145 -0.00178 0.00017 0.00000};
\end{axis}
\draw[black!55, line width=1.2pt] (38pt,-898pt) -- (776pt,-898pt);
\draw[sepc, line width=1.2pt] (37pt,-1017pt) -- (787pt,-1017pt);

% ===== USDJPY =====
\head{1042}{美日}{USDJPY}
\pl{1070}{美日昨日亚市开盘后继续走高,纽约盘时段略有反复,日线报收上影线中阳线,反弹动能略有增强,同时需关注上}
\pl{1098}{方阻力区,预防震荡反复,从4H来看,布林中轨拐头向上,MACD零轴附近运行,日内下方首要支撑141.70,第二支}
\pn{1126}{撑141.20,上方阻力142.70,143.20,保持在第一支撑上方短线有望回测第一阻力.}
\fill[stripbg] (38pt,-1139pt) rectangle (793pt,-1453pt);
\begin{axis}[cmain=3, at={(38pt,-1140pt)}, ymin=135.84, ymax=144.20, ytick={136.0,136.5,...,144.1}]
\addplot[bandc, line width=0.6pt] coordinates {(0,146.0) (8.64,144.31) (11.86,143.49) (14.52,143.15) (16.66,142.25) (18.79,141.56) (22,140.60) (24.67,139.91) (27.34,139.43) (30,139.12) (35.9,139.20) (40.2,139.50) (45.5,139.94) (49.8,140.53) (51.4,141.01) (55.1,141.84) (58.5,142.3) (62.6,142.53) (66,142.375) (69.3,142.17) (72.7,141.96) (76.1,141.935) (77.7,141.825) (80.3,141.92) (82.8,141.76) (85.3,141.62) (87,141.825) (88.7,142.375) (91.6,142.88)};
\addplot[bandc, line width=0.6pt] coordinates {(0,143.21) (3.84,142.53) (9.19,141.56) (14.52,140.46) (19.86,139.50) (22,139.02) (25.2,138.68) (28.4,138.54) (33.2,138.47) (35.9,138.54) (41.2,138.81) (46.6,139.23) (49.8,139.43) (51.9,139.78) (57.3,140.19) (62.6,140.67) (64.3,140.93) (67.6,141.165) (71,141.21) (74.4,141.0) (77.7,140.725) (81.1,140.45) (84.5,140.34) (87.8,140.48) (91.6,140.75)};
\addplot[bandc, line width=0.6pt] coordinates {(0,141.22) (1.7,140.67) (3.84,140.33) (6.5,139.91) (9.19,139.09) (11.85,138.26) (14.52,137.71) (17.19,137.30) (19.86,137.05) (22.5,137.23) (25.2,137.44) (27.9,137.60) (30.6,137.71) (35.9,137.71) (38.6,137.74) (41.2,137.92) (46.6,138.06) (50.3,138.10) (51.4,137.92) (54.6,138.06) (58.3,138.40) (62.6,139.23) (64.3,139.56) (66.8,140.04) (69.3,140.34) (71.8,140.45) (74.4,140.24) (77.7,139.83) (79.4,139.35) (81.1,139.01) (86.1,139.05) (88.7,138.73) (91.6,138.59)};
\lvl{143.20}\lvl{142.70}\lvl{141.70}\lvl{141.20}\curl{142.25}
\candles{\jpyc}
\rtag{red}{143.20}{143.200}\rtag{red}{142.70}{142.700}\rtag{red}{141.70}{141.700}\rtag{red}{141.20}{141.200}\rtag{black}{142.25}{142.253}
\node[anchor=north west, font=\tinyf, inner sep=1pt] at (rel axis cs:0,1) {USDJPY,H4 \ 142.274 142.288 142.199 142.253};
\end{axis}
\begin{axis}[cmacd, at={(38pt,-1345pt)}, ymin=-192, ymax=108, ytick={-184,0,100}, yticklabels={-1.3226,0.00,0.746}]
\hist{\jpyh}
\addplot[mblue, line width=0.9pt] coordinates {(0,-94) (2.9,-122) (6.3,-137) (10.5,-162) (13.9,-177) (18.1,-172) (20.6,-167) (23.1,-132) (27.3,-102) (31.5,-67) (34,-62) (37.4,-32) (40.8,0) (44.1,12) (47.5,23) (50.8,43) (52.5,73) (55,96) (57.6,93) (60.9,78) (64.3,68) (67.6,48) (71,18) (74.4,-2) (77.7,-7) (80.3,-32) (81.9,-42) (83.6,-27) (86.1,8) (88.7,50) (91.6,68)};
\addplot[mred, line width=1.4pt] coordinates {(0,-67) (3.8,-92) (8,-122) (12.2,-147) (16.4,-167) (19.7,-174) (23.1,-162) (27.3,-132) (30.7,-97) (34.9,-72) (39.1,-47) (43.3,-17) (47.5,10) (50.8,28) (54.2,53) (57.6,78) (60.9,86) (64.3,80) (67.6,68) (71,50) (74.4,23) (77.7,-2) (81.1,-17) (84.5,-22) (87,-12) (89.5,8) (91.6,26)};
\node[anchor=north west, font=\tinyf, inner sep=1pt] at (rel axis cs:0,1) {MACD(12,26,9) 0.4663 0.1774 0.2758 0.0000};
\end{axis}
\draw[black!55, line width=1.2pt] (38pt,-1344pt) -- (776pt,-1344pt);
\draw[sepc, line width=1.2pt] (37pt,-1463pt) -- (787pt,-1463pt);

% ===== XAUUSD =====
\head{1487}{黄金}{XAUUSD}
\pl{1516}{黄金昨日回落至第一支撑展开反弹,盘中触及第二阻力下方承压下行,日线报收上下影线小阳线,从收盘来看,下}
\pl{1543}{方支撑保持,同时上方面临前高阻力,短线的多空争夺有望继续,结合4H来看,布林上下轨略有收窄,MACD零轴}
\pl{1572}{附近运行,日内上方首要阻力1972-73,第二阻力1979,下方支撑1956,1948,第一阻力在没有收复前短线有望测}
\pn{1599}{试第一支撑.}
\fill[stripbg] (38pt,-1613pt) rectangle (793pt,-1927pt);
\begin{axis}[cmain=2, at={(38pt,-1614pt)}, ymin=1909.4, ymax=2002.1, ytick={1912,1918,...,2001}]
\addplot[bandc, line width=0.6pt] coordinates {(0,1928.8) (2.1,1930.3) (4.6,1934.1) (8,1938.7) (10.5,1947.8) (13,1961.5) (16.4,1969.1) (20.6,1972.9) (23.1,1973.7) (25.6,1972.1) (28.2,1966.8) (30.7,1963.0) (33.2,1963.0) (35.7,1972.1) (39.1,1982.8) (42.4,1987.3) (44.1,1990.4) (46.6,1991.4) (50,1989.6) (52.5,1987.3) (55.9,1986.6) (59.2,1985.8) (61.8,1982.8) (64.3,1974.4) (66.8,1970.6) (70.2,1969.1) (74.4,1973.7) (76.5,1979.0) (77.7,1980.0) (81.9,1981.3) (86.1,1980.5) (88.7,1981.0) (91.6,1980.5)};
\addplot[bandc, line width=0.6pt] coordinates {(0,1917.4) (4.6,1920.5) (8.8,1925.0) (13,1932.6) (17.2,1940.2) (21.4,1948.6) (25.6,1952.4) (29,1955.4) (33.2,1957.7) (37.4,1961.5) (41.6,1964.5) (45.8,1969.1) (49.2,1972.9) (52.5,1972.1) (55.9,1970.6) (59.2,1967.6) (62.6,1965.3) (66,1963.0) (70.2,1962.3) (73.5,1963.8) (76.1,1964.5) (77.7,1963.0) (81.9,1961.5) (86.1,1960.3) (91.6,1960.0)};
\addplot[bandc, line width=0.6pt] coordinates {(0,1900.7) (6.3,1906.8) (8.8,1911.6) (10.5,1909.8) (13.9,1906.8) (16.4,1911.3) (18.9,1920.5) (22.3,1931.1) (25.6,1940.2) (28.2,1948.6) (30.7,1950.1) (34,1947.8) (37.4,1944.0) (39.9,1942.5) (42.4,1943.3) (45.8,1947.8) (48.3,1955.4) (51.7,1961.5) (55.9,1956.2) (59.2,1952.4) (62.6,1950.9) (65.1,1952.4) (69.3,1952.7) (74.4,1951.6) (76.5,1944.8) (77.7,1943.6) (81.9,1941.0) (86.1,1939.0) (91.6,1939.0)};
\lvl{1979.0}\lvl{1972.5}\lvl{1956.0}\lvl{1948.0}\curl{1965.2}
\candles{\xauc}
\rtag{red}{1979.0}{1979.00}\rtag{red}{1972.5}{1972.50}\rtag{red}{1956.0}{1956.00}\rtag{red}{1948.0}{1948.00}\rtag{black}{1965.2}{1965.27}
\node[anchor=north west, font=\tinyf, inner sep=1pt] at (rel axis cs:0,1) {XAUUSD,H4 \ 1965.27 1965.97 1964.17 1965.27};
\end{axis}
\begin{axis}[cmacd, at={(38pt,-1819pt)}, ymin=-98, ymax=199, ytick={-91,0,195}, yticklabels={-5.28,0.00,10.60}]
\hist{\xauh}
\addplot[mblue, line width=0.9pt] coordinates {(0,29) (2.9,52) (7.1,82) (9.7,117) (11.3,152) (13,172) (15.5,184) (18.9,187) (20.6,179) (23.1,157) (25.6,117) (28.2,87) (30.7,82) (33.2,82) (34.9,112) (37.4,142) (39.9,149) (44.1,149) (46.6,137) (49.2,97) (52.5,47) (55.9,2) (59.2,-23) (62.6,-43) (65.1,-35) (67.6,-28) (70.2,-15) (73.5,22) (75.6,47) (76.9,17) (79.4,-48) (81.9,-68) (84.5,-53) (87,-51) (88.7,-23) (90.3,2) (91.6,7)};
\addplot[mred, line width=1.4pt] coordinates {(0,12) (2.9,27) (6.3,47) (9.7,67) (13,107) (16.4,147) (19.7,179) (23.1,177) (25.6,157) (29,122) (31.5,97) (34,92) (37.4,107) (40.8,132) (44.1,147) (45.8,147) (49.2,132) (52.5,97) (55.9,47) (59.2,7) (62.6,-18) (66,-31) (69.3,-28) (72.7,-15) (76.1,7) (77.7,15) (79.4,7) (82.8,-23) (86.1,-53) (88.7,-48) (91.6,-28)};
\node[anchor=north west, font=\tinyf, inner sep=1pt] at (rel axis cs:0,1) {MACD(12,26,9) 0.583 -1.458 2.023 0.000};
\end{axis}
\draw[black!55, line width=1.2pt] (38pt,-1818pt) -- (776pt,-1818pt);
\draw[sepc, line width=1.2pt] (37pt,-1937pt) -- (787pt,-1937pt);

% ===== OIL =====
\head{1962}{原油}{OIL}
\pl{1990}{原油昨日小幅调整后延续走高,至收盘续创日内新高,日线报收上下影线中阳线,目前上方逐步临近前高阻力区,}
\pl{2018}{突破后方可打开上升空间,从4H来看,布林中轨偏上,MACD零轴上方运行,日内下方首要支撑81.00,第二支撑}
\pn{2046}{80.00,上方阻力82.40-50,83.50,保持在第一支撑上方短线有望测试第一阻力.}
\fill[stripbg] (38pt,-2060pt) rectangle (793pt,-2372pt);
\begin{axis}[cmain=3, height=201pt, at={(38pt,-2061pt)}, ymin=70.22, ymax=84.44, ytick={70.5,71.4,...,84.3}]
\addplot[bandc, line width=0.6pt] coordinates {(0,74.10) (3.8,74.33) (8,74.85) (12.2,75.79) (15.5,76.61) (18.9,77.43) (21.4,77.55) (24.8,77.43) (29,77.08) (33.2,76.92) (37.4,76.73) (40.8,76.50) (44.1,76.31) (47.5,76.38) (50.8,76.68) (54.2,76.97) (57.6,77.43) (60.1,78.02) (62.6,79.20) (65.1,79.79) (67.6,80.21) (71,80.30) (74.4,80.21) (76.9,80.02) (79.4,79.79) (82.8,80.02) (86.1,80.14) (88.7,80.84) (91.6,81.55)};
\addplot[bandc, line width=0.6pt] coordinates {(0,72.38) (3.8,72.62) (8,72.97) (12.2,73.44) (15.5,74.03) (18.9,74.73) (21.4,75.44) (24.8,75.32) (29,75.20) (33.2,75.20) (37.4,75.09) (40.8,74.97) (44.1,74.97) (48.3,75.09) (52.5,75.44) (55.9,75.79) (59.2,76.14) (62.6,76.68) (66,77.25) (69.3,77.72) (72.7,78.09) (76.1,78.49) (79.4,78.96) (82.8,79.20) (86.1,79.36) (88.7,79.60) (91.6,79.97)};
\addplot[bandc, line width=0.6pt] coordinates {(0,70.74) (3.8,71.09) (8,71.56) (12.2,72.03) (16.4,72.38) (18.9,72.73) (21.4,73.68) (23.9,74.15) (27.3,73.68) (30.7,73.21) (34,73.09) (37.4,73.09) (40.8,73.21) (44.1,73.39) (47.5,73.53) (50.8,73.91) (54.2,74.50) (57.6,74.26) (60.1,74.15) (62.6,74.19) (65.1,74.57) (67.6,75.09) (71,75.84) (73.5,76.61) (76.1,77.67) (78.6,78.38) (81.1,78.42) (84.5,78.54) (87.8,78.42) (91.6,78.33)};
\lvl{83.50}\lvl{82.45}\lvl{81.00}\lvl{80.00}\curl{81.48}
\candles{\oilc}
\rtag{red}{83.50}{83.500}\rtag{red}{82.45}{82.450}\rtag{red}{81.00}{81.000}\rtag{red}{80.00}{80.000}\rtag{black}{81.48}{81.450}
\node[anchor=north west, font=\tinyf, inner sep=1pt] at (rel axis cs:0,1) {USOUSD,H4 \ 81.494 81.527 81.431 81.450};
\end{axis}
\begin{axis}[cmacd, height=99pt, at={(38pt,-2264pt)}, ymin=-116, ymax=181, ytick={-110,0,175}, yticklabels={-0.7786,0.00,1.1351}]
\hist{\oilh}
\addplot[mblue, line width=0.9pt] coordinates {(0,105) (2.9,95) (6.3,115) (10.5,138) (14.7,153) (18.1,165) (20.6,168) (22.7,158) (24.8,113) (27.3,53) (30.7,13) (33.2,-12) (34.9,-12) (36.6,8) (40.8,48) (44.1,33) (48.3,33) (51.7,43) (55.9,68) (59.2,123) (61.8,138) (65.1,153) (68.5,148) (71.8,123) (77.7,108) (83.6,95) (87,103) (89.5,121) (91.6,131)};
\addplot[mred, line width=1.4pt] coordinates {(0,108) (3.8,108) (8,123) (12.2,138) (16.4,148) (19.7,158) (22.7,158) (25.6,133) (29,93) (31.5,43) (34,3) (37.4,1) (40.8,23) (44.1,33) (48.3,33) (52.5,38) (56.7,55) (60.9,88) (65.1,125) (67.6,143) (71,141) (75.2,128) (79.4,113) (83.6,101) (87,101) (91.6,108)};
\node[anchor=north west, font=\tinyf, inner sep=1pt] at (rel axis cs:0,1) {MACD(12,26,9) 0.8983 0.4824 0.1630 0.0000};
\end{axis}
\draw[black!55, line width=1.2pt] (38pt,-2263pt) -- (776pt,-2263pt);
\draw[sepc, line width=1.2pt] (37pt,-2382pt) -- (787pt,-2382pt);

% ===== disclaimer =====
\dl{2408}{745}{文中观点仅代表撰写者本人观点，非WeTrade众汇官方观点。WeTrade众汇提醒温馨客户请结合自身交易实际情况进行分析及研究，文中所提}
\dl{2436}{756}{供的信息不以任何方式构成买卖证券和类似产品的招揽或诱导。评论和分析反映的是在特定时间的观点，可随时更改。此外，它们不构成任何承}
\dl{2464}{744}{诺或担保。接受者承认并同意，就其本质而言，对金融工具的任何投资具有随机性质，因此任何此类投资所构成的风险投资均由接受者全权负}
\dl{2492}{756}{责。需明确，金融产品过去的业绩不以任何方式预判其未来业绩。期货、差价合约、权证、凭证等外汇市场和金融衍生品涉及高风险。它们需要}
\dl{2520}{126}{良好的财务知识和经验。}
\dl{2548}{475}{\textbf{友情提示：}WeTrade根据客户的指示代表客户执行或完成的所有交易对双方均具有约束力。}
\dl{2576}{750}{为防止未经授权访问网站，个人后台以及客户本人的MT4 交易账号，客户不得将用户ID、账号和密码泄露给任何第三方。与他人共享您的账户}
\dl{2604}{750}{信息密码相当于您授予此第三方在交易中使用您的姓名进行操作。客户应对任何意外或未经授权的密码及私人信息披露负全部责任。如果客户}
\dl{2632}{632}{未采取预防措施导致自身蒙受此类损失，损害或伤害，WeTrade众汇对客户可能遭受的任何损失，损害或伤害概不负责。}
\dl{2660}{749}{\textbf{高风险警告：}差价合约（CFD）具有高度投机性，风险高，可能并不适合所有投资者。您可能蒙受部分或全部投资资本的损失，因此，若您在}
\dl{2688}{442}{心理或资产上无风险承受能力或无法接受潜在风险，则您不应该进行CFD风险投资。}
\dl{2716}{748}{客户应注意与保证金交易有关的所有风险。因此，客户需在结合自身的交易经验、投资经验、投资目标，财务状况及其他相关条件对自身是否}
\dl{2744}{249}{适合此处提供的所有交易产品和服务进行评估。}
\dl{2772}{749}{在决定交易之前，客户应阅读并理解WeTrade众汇风险披露声明。通过在WeTrade众汇交易，客户无条件接受条款并同意受其约束并按照其行}
\dl{2800}{749}{事。客户知晓并承认，WeTrade众汇不会以任何名义索要您的密码，不会提供任何形式的代客户操盘服务或喊单服务，亦不会以任何形式干涉}
\dl{2828}{749}{客户的交易选择，更不会为投资者提供任何财务建议或操作建议。同理，在WeTrade众汇上发布的任何信息均不构成投资建议、法律咨询和投}
\dl{2856}{396}{资招揽，因此WeTrade 众汇对您的交易活动中的任何损失不承担任何责任。}
\dl{2884}{749}{\textbf{免责声明：}使用电子服务存在一些风险，包括但不限于硬件，软件和互联网连接故障。客户承认，使用电子服务和互联网存在安全，保密和其}
\dl{2912}{309}{它风险，这些风险可能超出WeTrade众汇的合理控制范围。}
\dl{2940}{751}{通过选择使用或通过电子服务和互联网进行通信，客户接受客户与WeTrade 众汇之间进行的所有通信均由客户自行承担风险。下止损订单不一}
\dl{2968}{740}{定会将您的损失限制在预期的范围内，因为市场条件可能使您无法以规定的价格执行该订单，而您的订单可能会以较差的价格（滑点）执行。}
\end{tikzpicture}
\end{document}
